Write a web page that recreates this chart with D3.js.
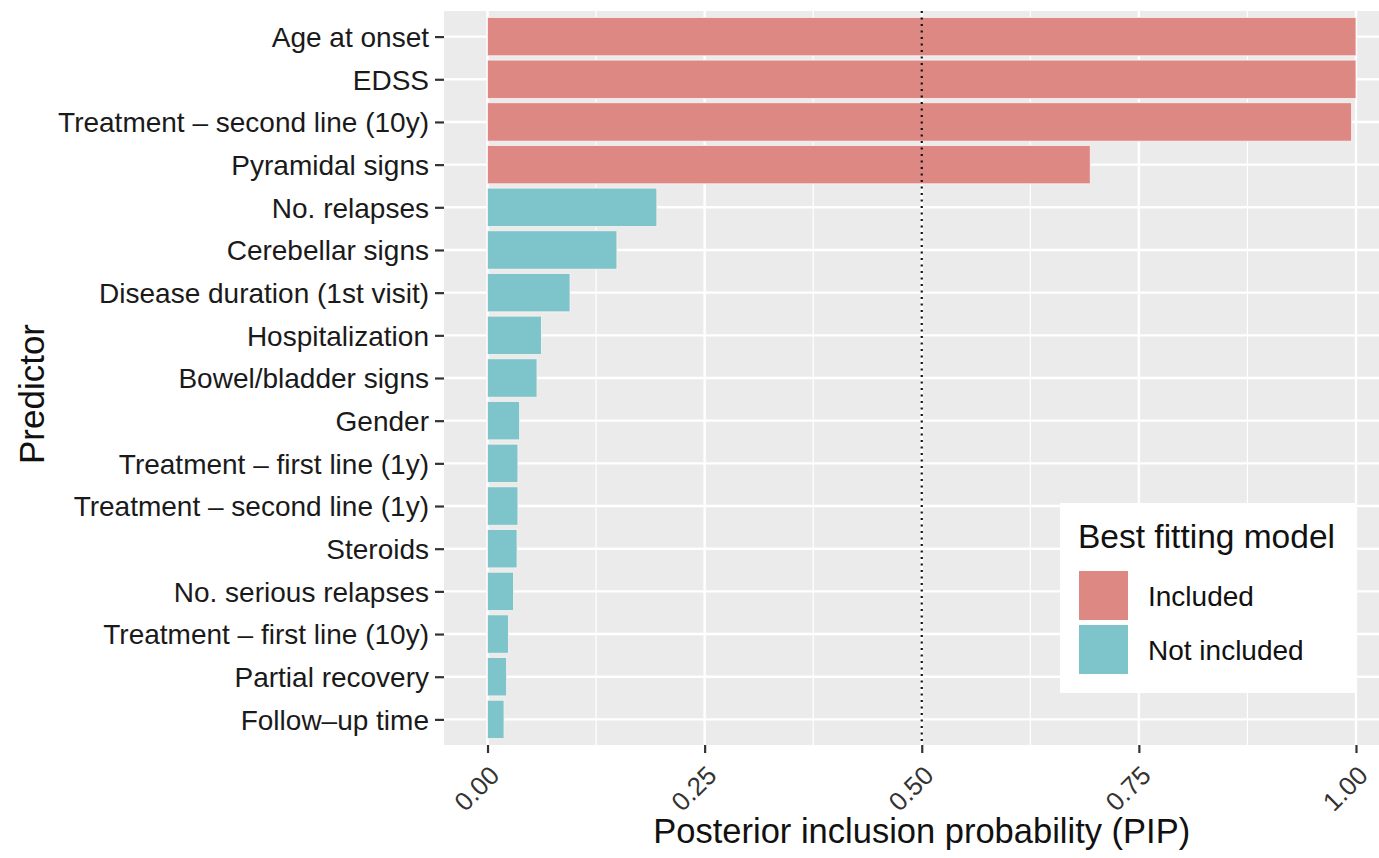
<!DOCTYPE html>
<html>
<head>
<meta charset="utf-8">
<script src="https://cdn.jsdelivr.net/npm/d3@7"></script>
<style>
  html, body { margin: 0; padding: 0; background: #fff; }
  svg { display: block; font-family: "Liberation Sans", Arial, Helvetica, sans-serif; }
</style>
</head>
<body>
<svg id="chart" width="1379" height="858"></svg>
<script>
// Predictors, top to bottom
const predictors = [
  "Age at onset",
  "EDSS",
  "Treatment \u2013 second line (10y)",
  "Pyramidal signs",
  "No. relapses",
  "Cerebellar signs",
  "Disease duration (1st visit)",
  "Hospitalization",
  "Bowel/bladder signs",
  "Gender",
  "Treatment \u2013 first line (1y)",
  "Treatment \u2013 second line (1y)",
  "Steroids",
  "No. serious relapses",
  "Treatment \u2013 first line (10y)",
  "Partial recovery",
  "Follow\u2013up time"
];

// Posterior inclusion probability per predictor
const pip = [1.0, 1.0, 0.995, 0.694, 0.195, 0.149, 0.095, 0.062, 0.057,
             0.037, 0.035, 0.035, 0.034, 0.030, 0.024, 0.022, 0.019];

// Whether the predictor is in the best fitting model
const inModel = [true, true, true, true, false, false, false, false, false,
                 false, false, false, false, false, false, false, false];

const xTicks = [0, 0.25, 0.5, 0.75, 1.0];
const xMinor = [0.125, 0.375, 0.625, 0.875];
const threshold = 0.5;

const legendTitle = "Best fitting model";
const legendLabels = ["Included", "Not included"];

const data = predictors.map((p, i) => ({ name: p, value: pip[i], included: inModel[i] }));

const svg = d3.select("#chart");
const panel = { left: 444, top: 11, bottom: 745 };

const x = d3.scaleLinear().domain([-0.05, 1.05]).range([444.1, 1399.4]);
const y = d3.scalePoint().domain(predictors).range([panel.top, panel.bottom]).padding(0.6);
const step = y.step();
const color = d3.scaleOrdinal().domain([true, false]).range(["#DE8884", "#7DC5CA"]);

// Panel background
svg.append("rect")
  .attr("x", panel.left).attr("y", panel.top)
  .attr("width", x(1.05) - panel.left).attr("height", panel.bottom - panel.top)
  .attr("fill", "#EBEBEB");

const grid = svg.append("g");
grid.selectAll("line.minor").data(xMinor).join("line")
  .attr("x1", d => x(d)).attr("x2", d => x(d))
  .attr("y1", panel.top).attr("y2", panel.bottom)
  .attr("stroke", "#fff").attr("stroke-width", 1.2);
grid.selectAll("line.major").data(xTicks).join("line")
  .attr("x1", d => x(d)).attr("x2", d => x(d))
  .attr("y1", panel.top).attr("y2", panel.bottom)
  .attr("stroke", "#fff").attr("stroke-width", 2.4);
grid.selectAll("line.h").data(predictors).join("line")
  .attr("x1", panel.left).attr("x2", x(1.05))
  .attr("y1", d => y(d)).attr("y2", d => y(d))
  .attr("stroke", "#fff").attr("stroke-width", 2.4);

// Bars
svg.append("g").selectAll("rect").data(data).join("rect")
  .attr("x", x(0))
  .attr("y", d => y(d.name) - step * 0.45)
  .attr("width", d => x(d.value) - x(0))
  .attr("height", step * 0.9)
  .attr("fill", d => color(d.included))
  .attr("stroke", "#fbf3f1").attr("stroke-width", 0.8);

// Threshold line
svg.append("line")
  .attr("x1", x(threshold)).attr("x2", x(threshold))
  .attr("y1", panel.top).attr("y2", panel.bottom)
  .attr("stroke", "#111").attr("stroke-width", 2.2)
  .attr("stroke-dasharray", "2,4.5");

// Y axis
const yAxis = svg.append("g")
  .attr("transform", `translate(${panel.left},0)`)
  .call(d3.axisLeft(y).tickSize(9).tickPadding(6));
yAxis.select(".domain").remove();
yAxis.selectAll(".tick line").attr("stroke", "#333").attr("stroke-width", 2.2);
yAxis.selectAll(".tick text")
  .attr("fill", "#1a1a1a")
  .style("font-size", "28px")
  .attr("dy", "0.35em");

// X axis
const xAxis = svg.append("g")
  .attr("transform", `translate(0,${panel.bottom})`)
  .call(d3.axisBottom(x).tickValues(xTicks).tickFormat(d3.format(".2f")).tickSize(8).tickPadding(4));
xAxis.select(".domain").remove();
xAxis.selectAll(".tick line").attr("stroke", "#333").attr("stroke-width", 2.2);
xAxis.selectAll(".tick text")
  .attr("fill", "#333")
  .style("font-size", "26px")
  .attr("text-anchor", "end")
  .attr("dy", null)
  .attr("y", 0)
  .attr("transform", "translate(13,32) rotate(-45)");

// Axis titles
svg.append("text")
  .attr("x", x(0.5))
  .attr("y", 843)
  .attr("text-anchor", "middle")
  .attr("fill", "#111")
  .style("font-size", "34.5px")
  .text("Posterior inclusion probability (PIP)");

svg.append("text")
  .attr("transform", `translate(44,394) rotate(-90)`)
  .attr("text-anchor", "middle")
  .attr("fill", "#111")
  .style("font-size", "35px")
  .text("Predictor");

// Legend
const lg = svg.append("g").attr("transform", "translate(1060,503)");
lg.append("rect").attr("width", 296).attr("height", 190).attr("fill", "#fff");
lg.append("text")
  .attr("x", 18).attr("y", 45)
  .attr("fill", "#111")
  .style("font-size", "33.5px")
  .text(legendTitle);
const keys = lg.selectAll("g.key").data([true, false]).join("g")
  .attr("transform", (d, i) => `translate(19,${68 + i * 54})`);
keys.append("rect")
  .attr("width", 49).attr("height", 49)
  .attr("fill", d => color(d));
keys.append("text")
  .attr("x", 69).attr("y", 35)
  .attr("fill", "#111")
  .style("font-size", "28px")
  .text((d, i) => legendLabels[i]);
</script>
</body>
</html>
